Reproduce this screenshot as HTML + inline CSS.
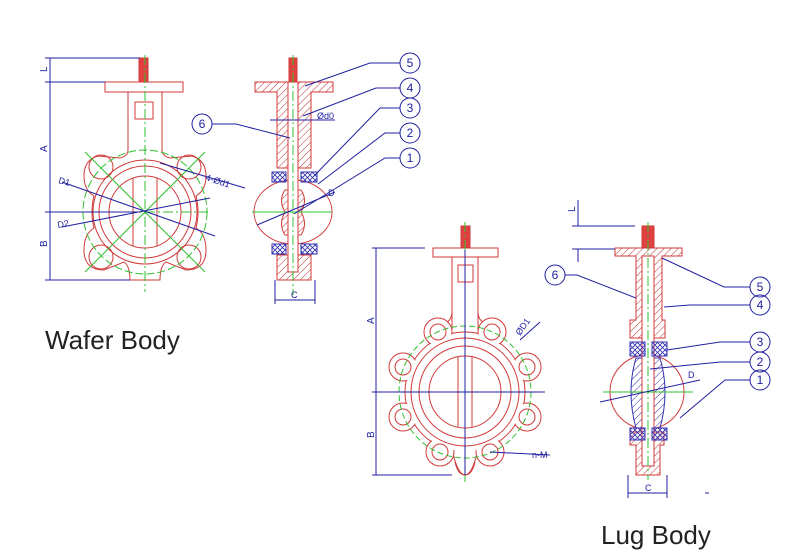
<!DOCTYPE html>
<html><head><meta charset="utf-8"><style>
html,body{margin:0;padding:0;background:#fff;}
svg{display:block}
</style></head><body>
<svg width="794" height="559" viewBox="0 0 794 559" xmlns="http://www.w3.org/2000/svg">
<defs>
<pattern id="hr" width="5" height="5" patternUnits="userSpaceOnUse" patternTransform="rotate(45)"><line x1="0" y1="0" x2="0" y2="5" stroke="#c03030" stroke-width="1"/></pattern>
<pattern id="hb" width="5" height="5" patternUnits="userSpaceOnUse" patternTransform="rotate(45)"><line x1="0" y1="0" x2="0" y2="5" stroke="#3030b0" stroke-width="1"/></pattern>
<pattern id="xb" width="5" height="5" patternUnits="userSpaceOnUse"><path d="M0 0L5 5M5 0L0 5" stroke="#3030b0" stroke-width="0.8"/></pattern>
</defs>
<g fill="none" stroke-width="1">

<!-- ===== WAFER FRONT ===== -->
<g stroke="#d03a3a">
<rect x="105" y="82" width="78" height="10"/>
<rect x="139" y="58" width="9" height="24" fill="#e04040"/>
<path d="M128 92 V150 Q128 156 120 158 L98 156 Q84 160 84 176 Q84 190 94 196 Q90 212 94 228 Q84 234 84 250 Q84 270 104 270 L124 262 Q130 266 130 280 L160 280 Q160 266 166 262 L186 270 Q206 270 206 250 Q206 234 196 228 Q200 212 196 196 Q206 190 206 176 Q206 160 192 156 L170 158 Q162 156 162 150 V92"/>
<rect x="135" y="102" width="18" height="17"/>
<circle cx="145" cy="212" r="52"/>
<circle cx="145" cy="212" r="46"/>
<circle cx="145" cy="212" r="36"/>
<line x1="133" y1="178" x2="133" y2="246"/><line x1="157" y1="178" x2="157" y2="246"/>
<circle cx="101" cy="167" r="12"/><circle cx="189" cy="167" r="12"/>
<circle cx="101" cy="257" r="12"/><circle cx="189" cy="257" r="12"/>
</g>
<g stroke="#30c030">
<line x1="145" y1="55" x2="145" y2="292" stroke-dasharray="10,3,2,3"/>
<line x1="55" y1="212" x2="208" y2="212" stroke-dasharray="10,3,2,3"/>
<path d="M85 152L205 272M205 152L85 272"/>
<circle cx="145" cy="212" r="62" stroke-dasharray="8,3"/>
</g>
<g stroke="#2020a0">
<line x1="50" y1="58" x2="50" y2="280"/>
<line x1="45" y1="58" x2="140" y2="58"/><line x1="45" y1="82" x2="105" y2="82"/>
<line x1="45" y1="212" x2="140" y2="212"/><line x1="45" y1="280" x2="130" y2="280"/>
<line x1="62" y1="182" x2="215" y2="236"/>
<line x1="62" y1="227" x2="210" y2="198"/>
<line x1="160" y1="163" x2="245" y2="188"/>
</g>

<!-- ===== WAFER SIDE ===== -->
<g stroke="#d03a3a">
<path d="M255 82 H333 V92 H311 V168 H277 V92 H255 Z" fill="url(#hr)"/>
<ellipse cx="293" cy="212" rx="39" ry="32"/>
<path d="M277 255 H311 V280 H277 Z" fill="url(#hr)"/>
<path d="M285 190 Q278 200 285 212 Q278 224 285 235 L301 235 Q308 224 301 212 Q308 200 301 190 Z" fill="url(#hr)"/>
<rect x="288" y="82" width="10" height="190" fill="#fff"/>
<rect x="289" y="58" width="8" height="24" fill="#e04040"/>
</g>
<rect x="272" y="172" width="14" height="10" fill="url(#xb)" stroke="#3030b0"/>
<rect x="301" y="172" width="16" height="10" fill="url(#xb)" stroke="#3030b0"/>
<rect x="272" y="244" width="14" height="10" fill="url(#xb)" stroke="#3030b0"/>
<rect x="301" y="244" width="16" height="10" fill="url(#xb)" stroke="#3030b0"/>
<g stroke="#30c030"><line x1="293" y1="55" x2="293" y2="295" stroke-dasharray="10,3,2,3"/><line x1="252" y1="212" x2="332" y2="212"/></g>
<g stroke="#2020a0">
<line x1="275" y1="280" x2="275" y2="304"/><line x1="315" y1="280" x2="315" y2="304"/>
<line x1="275" y1="300" x2="315" y2="300"/>
<line x1="270" y1="120" x2="335" y2="120"/>
<line x1="257" y1="225" x2="335" y2="192"/>
<circle cx="410" cy="63" r="10"/><circle cx="410" cy="88" r="10"/><circle cx="410" cy="108" r="10"/><circle cx="410" cy="133" r="10"/><circle cx="410" cy="158" r="10"/>
<circle cx="202" cy="124" r="10"/>
<path d="M400 63H370L305 86M400 88H376L303 116M400 108H380L314 176M400 133H385L318 184M400 158H385L294 214M212 124H236L290 138"/>
</g>

<!-- ===== LUG FRONT ===== -->
<g stroke="#d03a3a">
<rect x="433" y="248" width="65" height="9"/>
<rect x="461" y="226" width="9" height="22" fill="#e04040"/>
<path d="M452 257V312 Q452 322 440 326 M478 257V312 Q478 322 490 326"/>
<circle cx="465" cy="392" r="60" fill="#fff"/>
<path d="M452 450 Q458 475 465 475 Q472 475 478 450" fill="#fff"/>
<g fill="#fff">
<circle cx="438" cy="332" r="14"/><circle cx="492" cy="332" r="14"/>
<circle cx="403" cy="367" r="14"/><circle cx="527" cy="367" r="14"/>
<circle cx="403" cy="417" r="14"/><circle cx="527" cy="417" r="14"/>
<circle cx="440" cy="452" r="14"/><circle cx="490" cy="452" r="14"/>
</g>
<circle cx="465" cy="392" r="59" fill="#fff" stroke="none"/>
<path d="M452 258V330H478V258" fill="#fff" stroke="none"/>
<line x1="452" y1="257" x2="452" y2="330"/><line x1="478" y1="257" x2="478" y2="330"/>
<path d="M455 462 Q458 475 465 475 Q472 475 475 462"/>
<rect x="458" y="265" width="15" height="17"/>
<circle cx="465" cy="392" r="54"/><circle cx="465" cy="392" r="46"/><circle cx="465" cy="392" r="36"/>
<line x1="458" y1="357" x2="458" y2="427"/><line x1="472" y1="357" x2="472" y2="427"/>
<circle cx="438" cy="332" r="8"/><circle cx="492" cy="332" r="8"/>
<circle cx="403" cy="367" r="8"/><circle cx="527" cy="367" r="8"/>
<circle cx="403" cy="417" r="8"/><circle cx="527" cy="417" r="8"/>
<circle cx="440" cy="452" r="8"/><circle cx="490" cy="452" r="8"/>
</g>
<g stroke="#30c030"><circle cx="465" cy="392" r="66" stroke-dasharray="6,3"/><line x1="465" y1="222" x2="465" y2="482" stroke-dasharray="10,3,2,3"/></g>
<g stroke="#2020a0">
<line x1="376" y1="248" x2="376" y2="475"/>
<line x1="372" y1="248" x2="425" y2="248"/><line x1="372" y1="392" x2="545" y2="392"/><line x1="372" y1="475" x2="452" y2="475"/>
<line x1="465" y1="250" x2="465" y2="475"/>
<line x1="520" y1="340" x2="540" y2="322" />
<line x1="490" y1="452" x2="550" y2="455"/>
</g>

<!-- ===== LUG SIDE ===== -->
<g stroke="#d03a3a">
<path d="M615 248H682V256H662V320H665V338H630V320H636V256H615Z" fill="url(#hr)"/>
<circle cx="647" cy="392" r="37"/>
<path d="M630 432H664V445H660V475H636V445H630Z" fill="url(#hr)"/>
<path d="M636 358 Q626 392 636 428 H660 Q670 392 660 358Z" fill="url(#hb)" stroke="#3030b0"/>
<rect x="642" y="256" width="12" height="210" fill="#fff"/>
<rect x="642" y="226" width="12" height="22" fill="#e04040"/>
</g>
<rect x="630" y="342" width="15" height="14" fill="url(#xb)" stroke="#3030b0"/>
<rect x="652" y="342" width="15" height="14" fill="url(#xb)" stroke="#3030b0"/>
<rect x="630" y="428" width="15" height="12" fill="url(#xb)" stroke="#3030b0"/>
<rect x="652" y="428" width="15" height="12" fill="url(#xb)" stroke="#3030b0"/>
<g stroke="#30c030"><line x1="648" y1="222" x2="648" y2="480" stroke-dasharray="10,3,2,3"/><line x1="603" y1="392" x2="693" y2="392"/></g>
<g stroke="#2020a0">
<line x1="572" y1="226" x2="635" y2="226"/><line x1="572" y1="249" x2="615" y2="249"/>
<line x1="578" y1="200" x2="578" y2="226"/><line x1="578" y1="249" x2="578" y2="262"/>
<line x1="628" y1="475" x2="628" y2="498"/><line x1="667" y1="475" x2="667" y2="498"/>
<line x1="628" y1="493" x2="667" y2="493"/>
<line x1="600" y1="402" x2="700" y2="380"/>
<circle cx="760" cy="287" r="10"/><circle cx="760" cy="305" r="10"/><circle cx="760" cy="342" r="10"/><circle cx="760" cy="362" r="10"/><circle cx="760" cy="380" r="10"/>
<circle cx="555" cy="275" r="10"/>
<path d="M750 287H724L662 258M750 305H690L664 307M750 342H720L667 350M750 362H720L650 369M750 380H725L680 418M565 275H577L636 298"/>
<line x1="705" y1="493" x2="709" y2="493"/>
</g>
</g>

<g font-family="Liberation Sans, sans-serif" fill="#2020a0" font-size="9">
<text x="317" y="119">Ød0</text>
<text x="205" y="180" transform="rotate(18 205 180)">4-Ød1</text>
<text x="58" y="183" transform="rotate(15 58 183)">D1</text>
<text x="58" y="228" transform="rotate(-10 58 228)">D2</text>
<text x="328" y="196">D</text>
<text x="291" y="298">C</text>
<text x="645" y="491">C</text>
<text x="688" y="378">D</text>
<text x="520" y="336" transform="rotate(-55 520 336)">ØD1</text>
<text x="532" y="458">n-M</text>
<g font-size="10">
<text transform="translate(47,152) rotate(-90)">A</text>
<text transform="translate(47,247) rotate(-90)">B</text>
<text transform="translate(47,72) rotate(-90)">L</text>
<text transform="translate(374,324) rotate(-90)">A</text>
<text transform="translate(374,438) rotate(-90)">B</text>
<text transform="translate(575,212) rotate(-90)">L</text>
</g>
<g font-size="12" text-anchor="middle">
<text x="410" y="67">5</text><text x="410" y="92">4</text><text x="410" y="112">3</text><text x="410" y="137">2</text><text x="410" y="162">1</text><text x="202" y="128">6</text>
<text x="760" y="291">5</text><text x="760" y="309">4</text><text x="760" y="346">3</text><text x="760" y="366">2</text><text x="760" y="384">1</text><text x="555" y="279">6</text>
</g>
</g>
<g font-family="Liberation Sans, sans-serif" fill="#222" font-size="26" font-weight="300">
<text x="45" y="349">Wafer Body</text>
<text x="601" y="544">Lug Body</text>
</g>
</svg>
</body></html>
